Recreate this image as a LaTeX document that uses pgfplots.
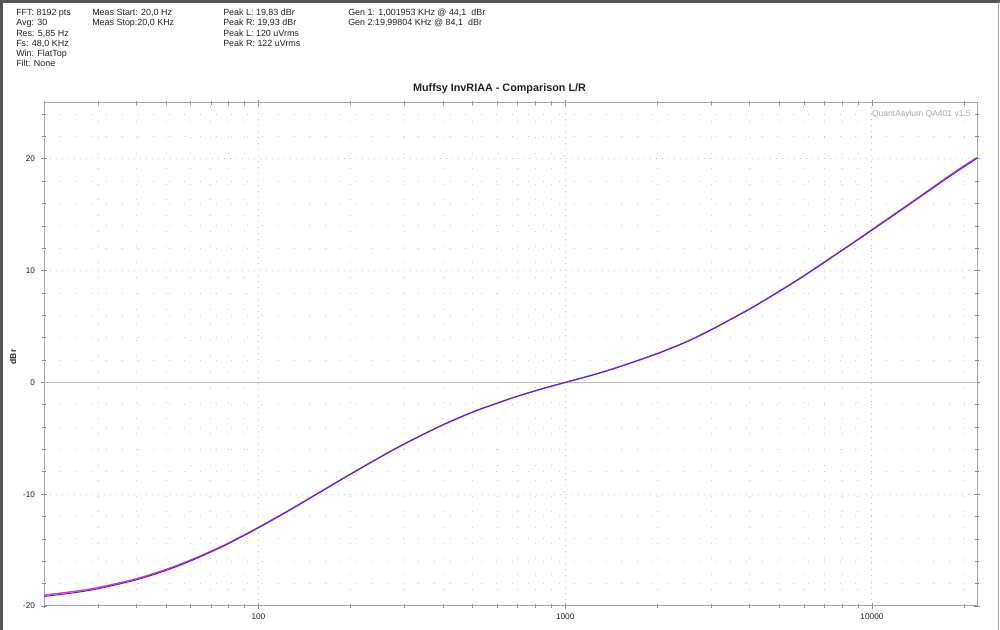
\documentclass[border=0pt]{standalone}
\usepackage{pgfplots}
\pgfplotsset{compat=1.18}
\usepackage{fontspec}
\setmainfont{Liberation Sans}
\definecolor{lblue}{RGB}{75,40,215}
\definecolor{rred}{RGB}{210,60,180}
\definecolor{axgray}{RGB}{165,165,165}
\definecolor{gridc}{RGB}{195,195,195}
\definecolor{txt}{RGB}{35,35,35}
\definecolor{brd}{RGB}{85,85,85}
\newcommand{\hdr}{\fontsize{6.7}{7.6}\selectfont}
\begin{document}
\begin{tikzpicture}[x=0.75pt,y=0.75pt]
\path[use as bounding box] (0,0) rectangle (1000,630);
\fill[white] (0,0) rectangle (1000,630);
\draw[brd,line width=2.2pt] (1.2,0) -- (1.2,628.8) -- (1000,628.8);
\draw[gray!70,line width=0.75pt] (998.5,0) -- (998.5,628);
% header
\begin{scope}[every node/.style={anchor=base west,inner sep=0pt,font=\hdr,text=txt}]
\node at (16,614.4) {FFT: 8192 pts};
\node at (16,604.1) {Avg: 30};
\node at (16,593.9) {Res: 5,85 Hz};
\node at (16,583.6) {Fs: 48,0 KHz};
\node at (16,573.4) {Win: FlatTop};
\node at (16,563.2) {Filt: None};
\node at (92,614.4) {Meas Start: 20,0 Hz};
\node at (92,604.1) {Meas Stop:20,0 KHz};
\node at (223,614.4) {Peak L: 19,83 dBr};
\node at (223,604.1) {Peak R: 19,93 dBr};
\node at (223,593.9) {Peak L: 120 uVrms};
\node at (223,583.6) {Peak R: 122 uVrms};
\node at (348,614.4) {Gen 1: 1,001953 KHz @ 44,1 \ dBr};
\node at (348,604.1) {Gen 2:19,99804 KHz @ 84,1 \ dBr};
\end{scope}
\node[font=\fontsize{8.1}{9}\selectfont\bfseries,text=txt,inner sep=0pt] at (499.5,541) {Muffsy InvRIAA - Comparison L/R};
\node[font=\fontsize{6.4}{7}\selectfont\bfseries,text=txt,rotate=90,inner sep=0pt] at (13,273) {dBr};
\begin{axis}[
  at={(33pt,18pt)}, anchor=south west,
  scale only axis, width=699.75pt, height=377.25pt,
  xmode=log, xmin=20, xmax=22000, ymin=-20, ymax=25,
  axis line style={axgray, line width=0.75pt},
  xtick={100,1000,10000}, xticklabels={100,1000,10000},
  minor xtick={20,30,40,50,60,70,80,90,200,300,400,500,600,700,800,900,2000,3000,4000,5000,6000,7000,8000,9000,20000},
  ytick={-20,-10,0,10,20},
  minor ytick={-18,-16,-14,-12,-8,-6,-4,-2,2,4,6,8,12,14,16,18,22,24},
  xmajorgrids, ymajorgrids, xminorgrids, yminorgrids,
  major grid style={gridc, line width=0.75pt, dash pattern=on 0.75pt off 3.75pt},
  minor grid style={gridc!85, line width=0.7pt, dash pattern=on 0.7pt off 11pt},
  tick align=center, major tick length=4.5pt, minor tick length=2.6pt,
  every tick/.style={axgray!85!black, line width=0.6pt},
  xticklabel pos=left, yticklabel pos=left,
  tick label style={font=\fontsize{6.2}{7}\selectfont, text=txt},
  /pgf/number format/assume math mode=true,
  yticklabel style={xshift=-1pt},
  clip=true,
]
\addplot[gridc, line width=0.75pt] coordinates {(20,0) (22000,0)};
\addplot[rred, line width=1pt, smooth, tension=0.5] coordinates {
(20,-19.02) (25,-18.70) (30,-18.35) (40,-17.56) (50,-16.73) (60,-15.90) (70,-15.10) (80,-14.35) (100,-12.96) (125,-11.47) (150,-10.20) (200,-8.18) (250,-6.65) (300,-5.47) (400,-3.78) (500,-2.64) (600,-1.85) (700,-1.23) (850,-0.53) (1000,0) (1250,0.73) (1500,1.40) (2000,2.60) (2500,3.68) (3000,4.74) (4000,6.60) (5000,8.19) (6000,9.55) (7000,10.78) (8500,12.34) (10000,13.67) (12500,15.51) (15000,17.03) (17500,18.32) (20000,19.40) (22000,20.12)};
\addplot[lblue, line width=0.75pt, smooth, tension=0.5] coordinates {
(20,-19.15) (25,-18.82) (30,-18.46) (40,-17.66) (50,-16.82) (60,-15.98) (70,-15.17) (80,-14.41) (100,-13.01) (125,-11.51) (150,-10.23) (200,-8.20) (250,-6.68) (300,-5.49) (400,-3.79) (500,-2.65) (600,-1.86) (700,-1.23) (850,-0.53) (1000,0) (1250,0.72) (1500,1.39) (2000,2.58) (2500,3.66) (3000,4.72) (4000,6.57) (5000,8.16) (6000,9.52) (7000,10.74) (8500,12.30) (10000,13.62) (12500,15.45) (15000,16.96) (17500,18.24) (20000,19.30) (22000,20.05)};
\end{axis}
\node[anchor=east,font=\fontsize{6.4}{7}\selectfont,text=gray!65,inner sep=0pt] at (971,516) {QuantAsylum QA401 v1.5};
\end{tikzpicture}
\end{document}
